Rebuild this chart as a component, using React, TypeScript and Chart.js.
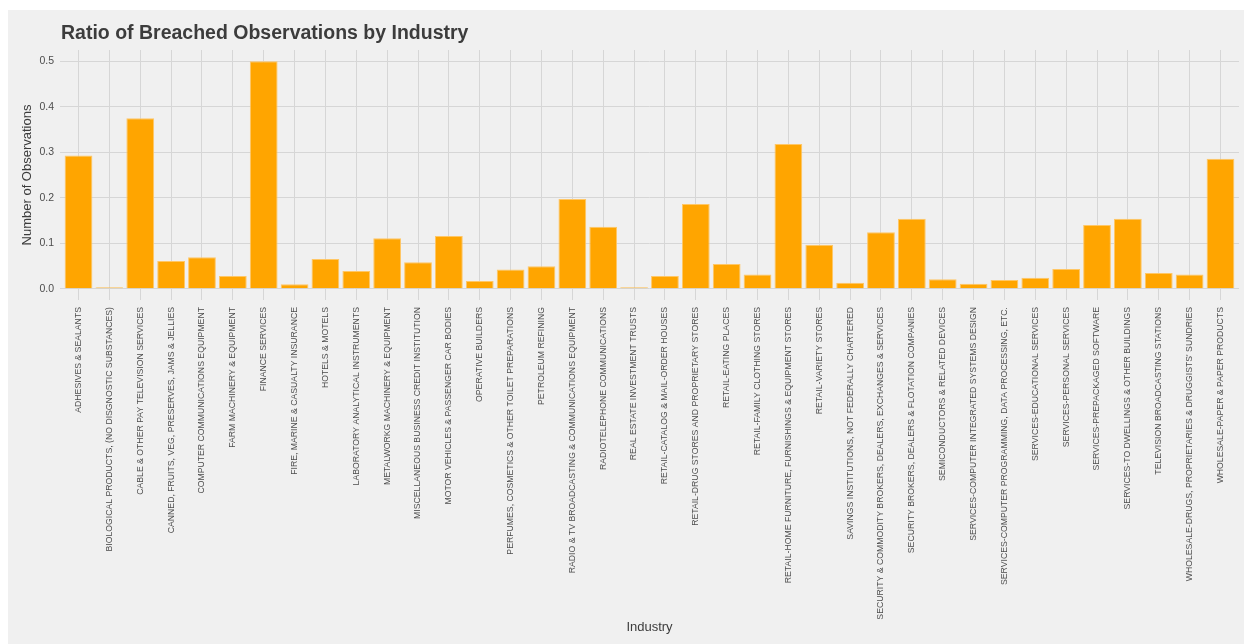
import React, { useEffect, useRef } from "react";
import { Chart, registerables } from "chart.js";

Chart.register(...registerables);

const chartTitle = "Ratio of Breached Observations by Industry";
const xAxisTitle = "Industry";
const yAxisTitle = "Number of Observations";

const categories = [
  "ADHESIVES & SEALANTS",
  "BIOLOGICAL PRODUCTS, (NO DISGNOSTIC SUBSTANCES)",
  "CABLE & OTHER PAY TELEVISION SERVICES",
  "CANNED, FRUITS, VEG, PRESERVES, JAMS & JELLIES",
  "COMPUTER COMMUNICATIONS EQUIPMENT",
  "FARM MACHINERY & EQUIPMENT",
  "FINANCE SERVICES",
  "FIRE, MARINE & CASUALTY INSURANCE",
  "HOTELS & MOTELS",
  "LABORATORY ANALYTICAL INSTRUMENTS",
  "METALWORKG MACHINERY & EQUIPMENT",
  "MISCELLANEOUS BUSINESS CREDIT INSTITUTION",
  "MOTOR VEHICLES & PASSENGER CAR BODIES",
  "OPERATIVE BUILDERS",
  "PERFUMES, COSMETICS & OTHER TOILET PREPARATIONS",
  "PETROLEUM REFINING",
  "RADIO & TV BROADCASTING & COMMUNICATIONS EQUIPMENT",
  "RADIOTELEPHONE COMMUNICATIONS",
  "REAL ESTATE INVESTMENT TRUSTS",
  "RETAIL-CATALOG & MAIL-ORDER HOUSES",
  "RETAIL-DRUG STORES AND PROPRIETARY STORES",
  "RETAIL-EATING PLACES",
  "RETAIL-FAMILY CLOTHING STORES",
  "RETAIL-HOME FURNITURE, FURNISHINGS & EQUIPMENT STORES",
  "RETAIL-VARIETY STORES",
  "SAVINGS INSTITUTIONS, NOT FEDERALLY CHARTERED",
  "SECURITY & COMMODITY BROKERS, DEALERS, EXCHANGES & SERVICES",
  "SECURITY BROKERS, DEALERS & FLOTATION COMPANIES",
  "SEMICONDUCTORS & RELATED DEVICES",
  "SERVICES-COMPUTER INTEGRATED SYSTEMS DESIGN",
  "SERVICES-COMPUTER PROGRAMMING, DATA PROCESSING, ETC.",
  "SERVICES-EDUCATIONAL SERVICES",
  "SERVICES-PERSONAL SERVICES",
  "SERVICES-PREPACKAGED SOFTWARE",
  "SERVICES-TO DWELLINGS & OTHER BUILDINGS",
  "TELEVISION BROADCASTING STATIONS",
  "WHOLESALE-DRUGS, PROPRIETARIES & DRUGGISTS' SUNDRIES",
  "WHOLESALE-PAPER & PAPER PRODUCTS",
];

const ratios = [
  0.293, 0.003, 0.375, 0.061, 0.069, 0.028, 0.5, 0.0095, 0.065, 0.039,
  0.111, 0.058, 0.116, 0.017, 0.042, 0.049, 0.197, 0.136, 0.003, 0.028,
  0.186, 0.054, 0.031, 0.318, 0.0965, 0.013, 0.124, 0.1535, 0.0205, 0.011,
  0.019, 0.024, 0.043, 0.14, 0.1535, 0.0345, 0.031, 0.286,
];

const yTicks = [0, 0.1, 0.2, 0.3, 0.4, 0.5];

const FONT = '"Liberation Sans", Arial, Helvetica, sans-serif';

const titlePlugin = {
  id: "leftTitle",
  afterDraw(chart: any) {
    const { ctx, chartArea } = chart;
    ctx.save();
    ctx.font = `bold 19.5px ${FONT}`;
    ctx.fillStyle = "#3c3c3c";
    ctx.textAlign = "left";
    ctx.textBaseline = "alphabetic";
    ctx.fillText(chartTitle, chartArea.left + 1, 29);
    ctx.restore();
  },
};

export default function App() {
  const canvasRef = useRef<HTMLCanvasElement | null>(null);

  useEffect(() => {
    document.body.style.overflow = "hidden";
    document.documentElement.style.overflow = "hidden";
    if (!canvasRef.current) return;
    Chart.defaults.font.family = FONT;
    const chart = new Chart(canvasRef.current, {
      type: "bar",
      data: {
        datasets: [
          {
            data: ratios.map((v, i) => ({ x: i, y: v })),
            backgroundColor: "#FFA500",
            borderColor: "#FFC766",
            borderWidth: 1,
            barPercentage: 0.9,
            categoryPercentage: 1,
          },
        ],
      },
      options: {
        animation: false,
        responsive: false,
        layout: { padding: { top: 40, right: 5, left: 0, bottom: 0 } },
        plugins: {
          legend: { display: false },
          tooltip: { enabled: false },
          title: { display: false },
        },
        scales: {
          x: {
            type: "linear",
            min: -0.6,
            max: categories.length - 1 + 0.6,
            offset: false,
            afterBuildTicks: (scale: any) => {
              scale.ticks = categories.map((_, i) => ({ value: i }));
            },
            afterFit: (scale: any) => {
              scale.height = 344;
            },
            grid: {
              offset: false,
              color: "#d6d6d6",
              lineWidth: 1,
              drawTicks: false,
            },
            border: { display: false },
            ticks: {
              autoSkip: false,
              minRotation: 90,
              maxRotation: 90,
              padding: 7,
              color: "#4d4d4d",
              font: { size: 8.7, family: FONT },
              callback: (value: any) => categories[Math.round(Number(value))],
            },
            title: {
              display: true,
              text: xAxisTitle,
              color: "#3c3c3c",
              font: { size: 13, family: FONT },
              padding: { top: 0, bottom: 9 },
            },
          },
          y: {
            type: "linear",
            min: -0.025,
            max: 0.525,
            afterBuildTicks: (scale: any) => {
              scale.ticks = yTicks.map((v) => ({ value: v }));
            },
            afterFit: (scale: any) => {
              scale.width = 52;
            },
            grid: {
              color: "#d6d6d6",
              lineWidth: 1,
              drawTicks: false,
            },
            border: { display: false },
            ticks: {
              padding: 6,
              color: "#4d4d4d",
              font: { size: 10.5, family: FONT },
              callback: (value: any) => Number(value).toFixed(1),
            },
            title: {
              display: true,
              text: yAxisTitle,
              color: "#3c3c3c",
              font: { size: 13, family: FONT },
              padding: { top: 12, bottom: 0 },
            },
          },
        },
      },
      plugins: [titlePlugin],
    } as any);
    return () => chart.destroy();
  }, []);

  return (
    <div style={{ position: "fixed", left: 8, top: 10, width: 1236, height: 634 }}>
      <canvas
        ref={canvasRef}
        width={1236}
        height={634}
        style={{ display: "block", backgroundColor: "#F0F0F0", width: 1236, height: 634 }}
      />
    </div>
  );
}
